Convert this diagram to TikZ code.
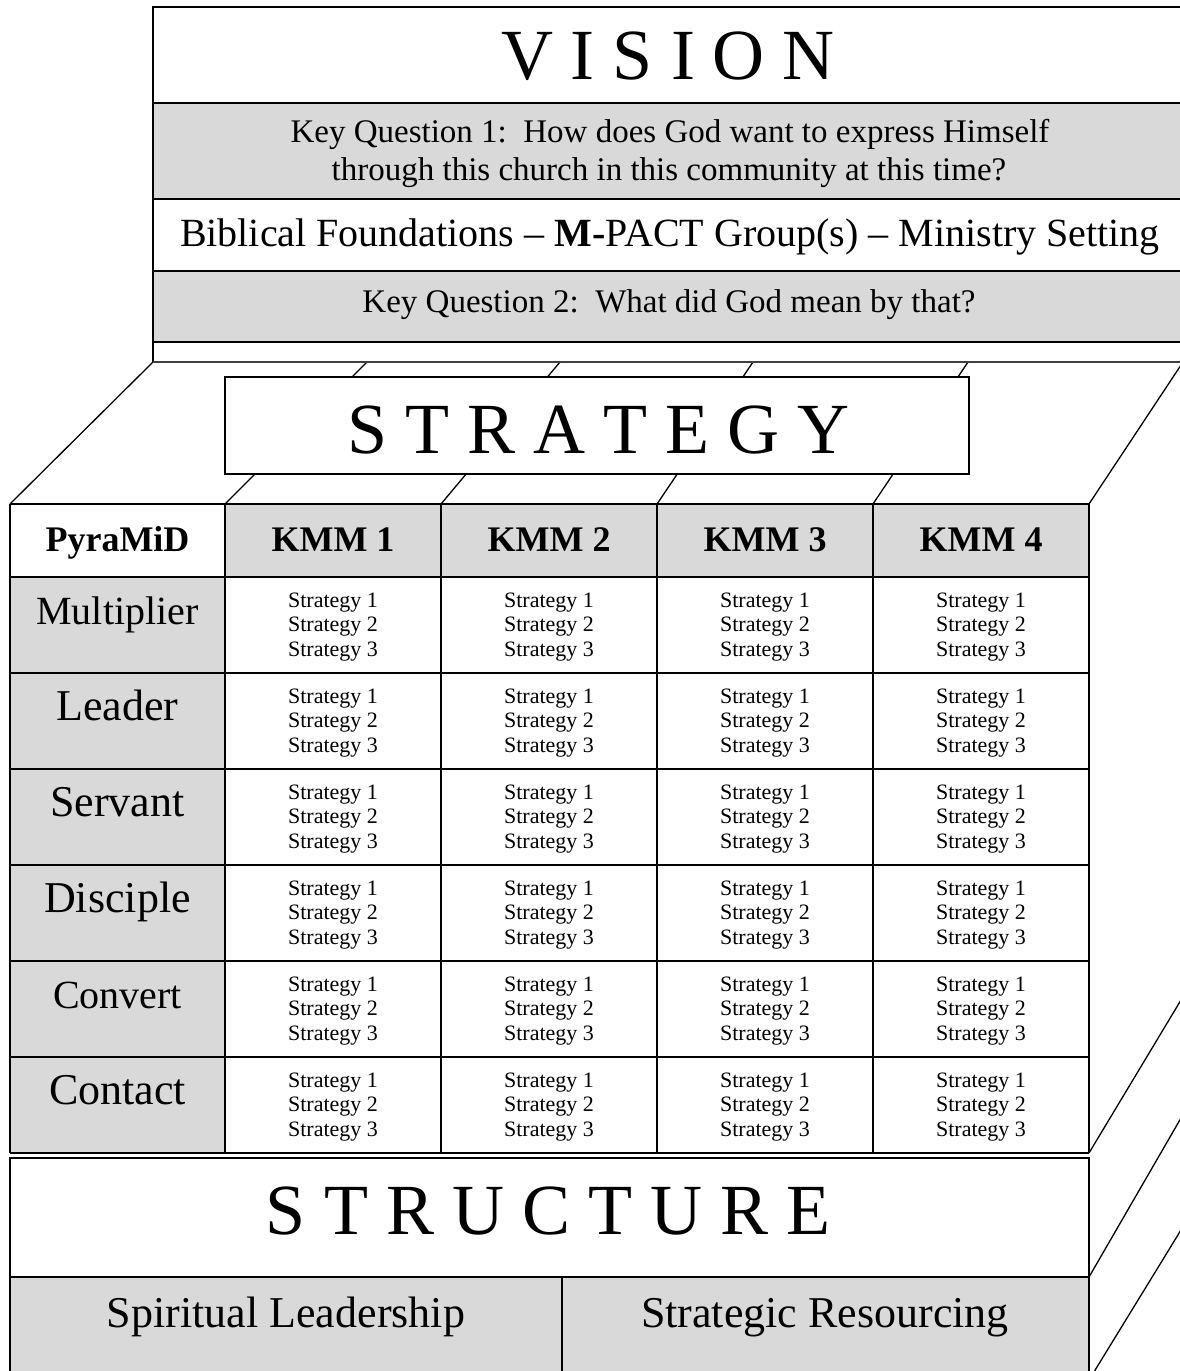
\documentclass[tikz,border=0pt]{standalone}
\usepackage{fontspec}
\setmainfont{Liberation Serif}
\definecolor{cellgray}{HTML}{D9D9D9}
\begin{document}
\begin{tikzpicture}[x=1pt,y=-1pt,
  frame/.style={draw=black,line width=2pt},
  edge/.style={draw=black,line width=1.3pt},
  backline/.style={draw=black!75,line width=1.3pt},
  shade/.style={fill=cellgray},
  title/.style={inner sep=0pt,anchor=base,font=\fontsize{72}{80}\selectfont},
  quest/.style={inner sep=0pt,anchor=base,font=\fontsize{33}{37}\selectfont},
  band/.style={inner sep=0pt,anchor=base,font=\fontsize{40}{44}\selectfont},
  head/.style={inner sep=0pt,anchor=base,font=\fontsize{36}{40}\selectfont\bfseries},
  rowlab/.style={inner sep=0pt,anchor=base},
  cell/.style={inner sep=0pt,align=center,font=\fontsize{22}{24.5}\selectfont},
  pillar/.style={inner sep=0pt,anchor=base,font=\fontsize{44}{48}\selectfont}
]
\useasboundingbox (0,0) rectangle (1180,1371);
\clip (0,0) rectangle (1180,1371);

% corner points of the box: back edge and front edge of the strategy level
\coordinate (b0) at (153,362);
\coordinate (b1) at (367,362);
\coordinate (b2) at (560,362);
\coordinate (b3) at (753,362);
\coordinate (b4) at (968,362);
\coordinate (b5) at (1183,362);
\coordinate (f0) at (10,504);
\coordinate (f1) at (225,504);
\coordinate (f2) at (441,504);
\coordinate (f3) at (657,504);
\coordinate (f4) at (873,504);
\coordinate (f5) at (1089,504);

% receding edges of the top face
\foreach \k in {0,...,5}
  \draw[edge] (f\k) -- (b\k);

% VISION block
\fill[shade] (153,103) rectangle (1190,199);
\fill[shade] (153,271) rectangle (1190,342);
\draw[frame] (1190,7) -- (153,7) -- (b0);
\foreach \yy in {103,199,271,342}
  \draw[frame] (153,\yy) -- (1190,\yy);
\draw[backline] (b0) -- (1190,362);

\node[title] (vision) at (668,79) {V I S I O N};
\node[quest] (kq1a) at (670,142) {Key Question 1:\ \ How does God want to express Himself};
\node[quest] (kq1b) at (669,180) {through this church in this community at this time?};
\node[band] (found) at (670,246) {Biblical Foundations – \textbf{M-}PACT Group(s) – Ministry Setting};
\node[quest] (kq2) at (669,312) {Key Question 2:\ \ What did God mean by that?};

% STRATEGY banner
\filldraw[frame,fill=white] (225,377) rectangle (969,474);
\node[title] (strategy) at (598,453) {S T R A T E G Y};

% strategy table
\fill[shade] (225,504) rectangle (1089,577);
\fill[shade] (10,577) rectangle (225,1153);
\foreach \yy in {504,577,673,769,865,961,1057,1153}
  \draw[frame] (10,\yy) -- (1089,\yy);
\foreach \xx in {10,225,441,657,873,1089}
  \draw[frame] (\xx,504) -- (\xx,1153);

\node[head] (pyramid) at (117.5,551) {PyraMiD};
\foreach \cx [count=\c] in {333,549,765,981}
  \node[head] (kmm\c) at (\cx,551) {KMM \c};

\foreach \name/\ry/\sz [count=\r] in {Multiplier/577/40,Leader/673/44,Servant/769/44,Disciple/865/44,Convert/961/40,Contact/1057/44}
  \node[rowlab,font=\fontsize{\sz}{\sz}\selectfont] (lvl\r) at (117.5,\ry+47) {\name};

\foreach \ry [count=\r] in {625,721,817,913,1009,1105}
  \foreach \cx [count=\c] in {333,549,765,981}
    \node[cell] (s\r-\c) at (\cx,\ry+2) {Strategy 1\\Strategy 2\\Strategy 3};

% STRUCTURE block
\fill[white] (10,1158) rectangle (1089,1277);
\fill[shade] (10,1277) rectangle (1089,1400);
\draw[frame] (10,1400) -- (10,1158) -- (1089,1158) -- (1089,1400);
\draw[frame] (10,1277) -- (1089,1277);
\draw[frame] (562,1277) -- (562,1400);
\node[title] (structure) at (548,1234) {S T R U C T U R E};
\node[pillar] (spirit) at (286,1327) {Spiritual Leadership};
\node[pillar] (resource) at (825,1327) {Strategic Resourcing};

% receding edges on the right side of the lower levels
\coordinate (r1) at (1089,1153);
\coordinate (r2) at (1089,1277);
\coordinate (r3) at (1089,1380);
\coordinate (q1) at (1181,1000);
\coordinate (q2) at (1181,1118);
\coordinate (q3) at (1181,1230);
\foreach \k in {1,2,3}
  \draw[edge] (r\k) -- (q\k);
\end{tikzpicture}
\end{document}
